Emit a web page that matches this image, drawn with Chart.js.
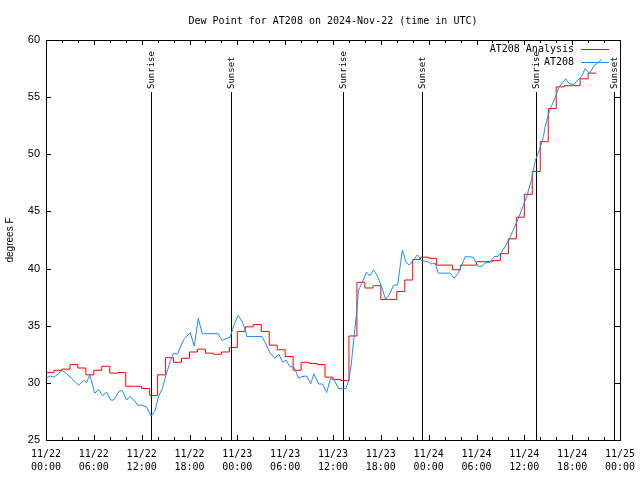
<!DOCTYPE html>
<html>
<head>
<meta charset="utf-8">
<title>Dew Point for AT208</title>
<script src="https://cdn.jsdelivr.net/npm/chart.js@4.4.1/dist/chart.umd.min.js"></script>
<style>
  html, body { margin: 0; padding: 0; background: #fff; }
  #wrap { width: 640px; height: 480px; }
</style>
</head>
<body>
<div id="wrap"><canvas id="dewCanvas" width="640" height="480"></canvas></div>
<script>
// time axis is hours since 2024-11-22 00:00 UTC

// analysis, one value per hour starting at hour 0
const analysisValues = [
  30.9, 31.1, 31.2, 31.6, 31.3, 30.7, 31.1, 31.45, 30.85, 30.9,
  29.7, 29.7, 29.5, 28.9, 30.7, 32.2, 31.8, 32.15, 32.7, 32.95,
  32.6, 32.5, 32.7, 33.1, 34.5, 34.9, 35.1, 34.5, 33.3, 32.9,
  32.3, 31.1, 31.8, 31.7, 31.6, 30.5, 30.3, 30.2, 34.1, 38.8,
  38.3, 38.5, 37.3, 37.3, 38.0, 39.0, 40.8, 41.0, 40.9, 40.3,
  40.3, 39.9, 40.3, 40.3, 40.6, 40.6, 40.7, 41.3, 42.6, 44.5,
  46.5, 48.5, 51.1, 54.0, 55.9, 56.0, 56.0, 56.6, 57.1, 57.1
];

// station observations
const obsHours = [
  0, 0.5, 1, 1.5, 2, 2.6, 3.2, 4.1, 4.7, 5.1, 5.5, 6.1, 6.6, 7.1, 7.6, 8.1, 8.5,
  9.2, 9.6, 10.1, 10.5, 11.1, 11.5, 12, 12.6, 13.2, 13.7, 14.1, 14.6, 15.1, 15.6,
  16, 16.5, 16.9, 17.3, 18.1, 18.6, 19.1, 19.6, 21.6, 22.1, 22.7, 23.1, 23.6, 24.1,
  24.6, 25, 25.2, 27.1, 27.5, 28.1, 28.7, 29.2, 29.7, 30.1, 30.6, 31.1, 31.7, 32.1,
  32.7, 33.2, 33.6, 34.2, 34.7, 35.2, 35.7, 36.2, 36.7, 37.6, 38, 38.3, 38.6, 39,
  39.2, 39.6, 39.8, 40.2, 40.6, 41.1, 41.6, 42.1, 42.6, 43.1, 43.6, 44.1, 44.7, 45.2,
  45.6, 46.1, 46.6, 47.1, 47.9, 48.4, 48.8, 49.2, 50.7, 51.2, 51.7, 52.6, 53.6, 54.2,
  54.7, 55.1, 55.7, 56.2, 56.7, 57.2, 57.7, 58.2, 58.7, 59.3, 59.8, 60.3, 60.9, 61.4,
  61.9, 62.4, 62.6, 63.2, 63.9, 64.3, 64.7, 65.2, 65.6, 66.2, 66.7, 67.2, 67.6, 68.2,
  68.7, 69.2, 69.7
];
const obsDew = [
  30.4, 30.6, 30.5, 30.75, 31.1, 30.8, 30.4, 29.8, 30.2, 30.05, 30.7, 29.1, 29.4, 28.9, 29.2, 28.5, 28.5,
  29.3, 29.3, 28.5, 28.8, 28.45, 28.05, 28.05, 27.9, 27.1, 27.6, 28.8, 29.5, 30.8, 31.9,
  32.6, 32.5, 33.2, 33.8, 34.4, 33.2, 35.65, 34.3, 34.3, 33.7, 33.9, 34.0, 35.1, 35.9,
  35.4, 34.6, 34.05, 34.05, 33.5, 32.6, 32.15, 32.5, 31.8, 32.0, 31.4, 31.4, 30.4, 30.55,
  30.6, 29.9, 30.8, 29.9, 29.9, 29.15, 30.4, 30.2, 29.5, 29.5, 30.25, 31.7, 33.75, 36.4,
  38.1, 38.7, 39.0, 39.7, 39.35, 39.9, 39.3, 38.4, 37.3, 37.75, 38.55, 38.55, 41.6, 40.5,
  40.3, 40.8, 41.2, 40.7, 40.6, 40.4, 40.5, 39.6, 39.6, 39.15, 39.6, 41.05, 41.0, 40.2,
  40.2, 40.5, 40.55, 41.05, 41.05, 41.5, 42.07, 42.74, 43.5, 44.5, 45.4, 46.3, 47.8, 49.5,
  50.4, 51.55, 52.4, 53.9, 55.0, 55.8, 56.2, 56.6, 56.2, 56.1, 56.5, 56.8, 57.5, 57.1,
  57.7, 58.0, 58.3
];

// sunrise / sunset markers
const eventHours = [13.2, 23.17, 37.3, 47.2, 61.43, 71.2];
const eventNames = ['Sunrise', 'Sunset', 'Sunrise', 'Sunset', 'Sunrise', 'Sunset'];

// x tick labels, every 6 hours
const xTickDates = ['11/22', '11/22', '11/22', '11/22', '11/23', '11/23', '11/23',
                    '11/23', '11/24', '11/24', '11/24', '11/24', '11/25'];
const xTickTimes = ['00:00', '06:00', '12:00', '18:00', '00:00', '06:00', '12:00',
                    '18:00', '00:00', '06:00', '12:00', '18:00', '00:00'];

const MONO = '"DejaVu Sans Mono", monospace';
const SANS = '"Liberation Sans", Arial, sans-serif';

// gnuplot look: frame, inward ticks, event lines and the legend
const gnuplotBits = {
  id: 'gnuplotBits',
  beforeDatasetsDraw(chart) {
    const { ctx, chartArea: a, scales: { x } } = chart;
    const yTop = a.bottom - 0.87 * (a.bottom - a.top);
    ctx.save();
    ctx.strokeStyle = '#000';
    ctx.fillStyle = '#000';
    ctx.lineWidth = 1;
    ctx.font = '9px ' + MONO;
    eventHours.forEach((h, i) => {
      const px = Math.round(x.getPixelForValue(h)) + 0.5;
      ctx.beginPath();
      ctx.moveTo(px, a.bottom);
      ctx.lineTo(px, Math.round(yTop));
      ctx.stroke();
      ctx.save();
      ctx.translate(px, Math.round(yTop) - 3);
      ctx.rotate(-Math.PI / 2);
      ctx.textAlign = 'left';
      ctx.textBaseline = 'middle';
      ctx.fillText(eventNames[i], 0, 0);
      ctx.restore();
    });
    ctx.restore();
  },
  afterDatasetsDraw(chart) {
    const { ctx, chartArea: a, scales: { x, y } } = chart;
    ctx.save();
    ctx.strokeStyle = '#000';
    ctx.lineWidth = 1;

    // frame
    ctx.strokeRect(Math.round(a.left) + 0.5, Math.round(a.top) + 0.5,
                   Math.round(a.right) - Math.round(a.left), Math.round(a.bottom) - Math.round(a.top));

    // x ticks every 2 h, longer every 6 h, bottom and top
    ctx.beginPath();
    for (let h = x.min; h <= x.max; h += 2) {
      const px = Math.round(x.getPixelForValue(h)) + 0.5;
      const len = h % 6 === 0 ? 5 : 3;
      ctx.moveTo(px, a.bottom); ctx.lineTo(px, a.bottom - len);
      ctx.moveTo(px, a.top); ctx.lineTo(px, a.top + len);
    }
    // y ticks, left and right
    y.ticks.forEach(t => {
      const py = Math.round(y.getPixelForValue(t.value)) + 0.5;
      ctx.moveTo(a.left, py); ctx.lineTo(a.left + 5, py);
      ctx.moveTo(a.right, py); ctx.lineTo(a.right - 5, py);
    });
    ctx.stroke();

    // legend, top right inside
    ctx.font = '10px ' + MONO;
    ctx.textAlign = 'right';
    ctx.textBaseline = 'middle';
    chart.data.datasets.forEach((ds, i) => {
      const ly = Math.round(a.top + 9 + i * 13) + 0.5;
      ctx.fillStyle = '#000';
      ctx.fillText(ds.label, a.right - 46, ly);
      ctx.strokeStyle = ds.borderColor;
      ctx.beginPath();
      ctx.moveTo(a.right - 39, ly);
      ctx.lineTo(a.right - 11, ly);
      ctx.stroke();
    });
    ctx.restore();
  }
};

const ctx = document.getElementById('dewCanvas').getContext('2d');
new Chart(ctx, {
  type: 'line',
  data: {
    datasets: [
      {
        label: 'AT208 Analysis',
        data: analysisValues.map((v, i) => ({ x: i, y: v })),
        borderColor: '#ff0000',
        borderWidth: 1,
        pointRadius: 0,
        stepped: 'before',
        order: 1
      },
      {
        label: 'AT208',
        data: obsHours.map((h, i) => ({ x: h, y: obsDew[i] })),
        borderColor: '#1a8cff',
        borderWidth: 1,
        pointRadius: 0,
        tension: 0,
        order: 0
      }
    ]
  },
  options: {
    responsive: false,
    animation: false,
    devicePixelRatio: 1,
    layout: { padding: { left: 0, right: 20, top: 0, bottom: 0 } },
    plugins: {
      legend: { display: false },
      tooltip: { enabled: false },
      title: {
        display: true,
        text: 'Dew Point for AT208 on 2024-Nov-22 (time in UTC)',
        color: '#000',
        fullSize: false,
        font: { family: MONO, size: 10, weight: 'normal' },
        padding: { top: 15, bottom: 13 }
      }
    },
    scales: {
      x: {
        type: 'linear',
        min: 0,
        max: 72,
        grid: { display: false, drawTicks: false },
        border: { display: false },
        ticks: {
          stepSize: 6,
          autoSkip: false,
          maxRotation: 0,
          color: '#000',
          padding: 8,
          font: { family: MONO, size: 10, lineHeight: 1.3 },
          callback: (v) => {
            const i = Math.round(v / 6);
            return [xTickDates[i], xTickTimes[i]];
          }
        },
        afterFit: (s) => { s.height = 40; s.paddingLeft = 0; s.paddingRight = 0; }
      },
      y: {
        min: 25,
        max: 60,
        grid: { display: false, drawTicks: false },
        border: { display: false },
        ticks: {
          stepSize: 5,
          color: '#000',
          padding: 6,
          font: { family: SANS, size: 11 }
        },
        title: {
          display: true,
          text: 'degrees F',
          color: '#000',
          font: { family: SANS, size: 10 },
          padding: { top: 4, bottom: 0 }
        },
        afterFit: (s) => { s.width = 46; s.paddingTop = 0; s.paddingBottom = 0; }
      }
    }
  },
  plugins: [gnuplotBits]
});
</script>
</body>
</html>
